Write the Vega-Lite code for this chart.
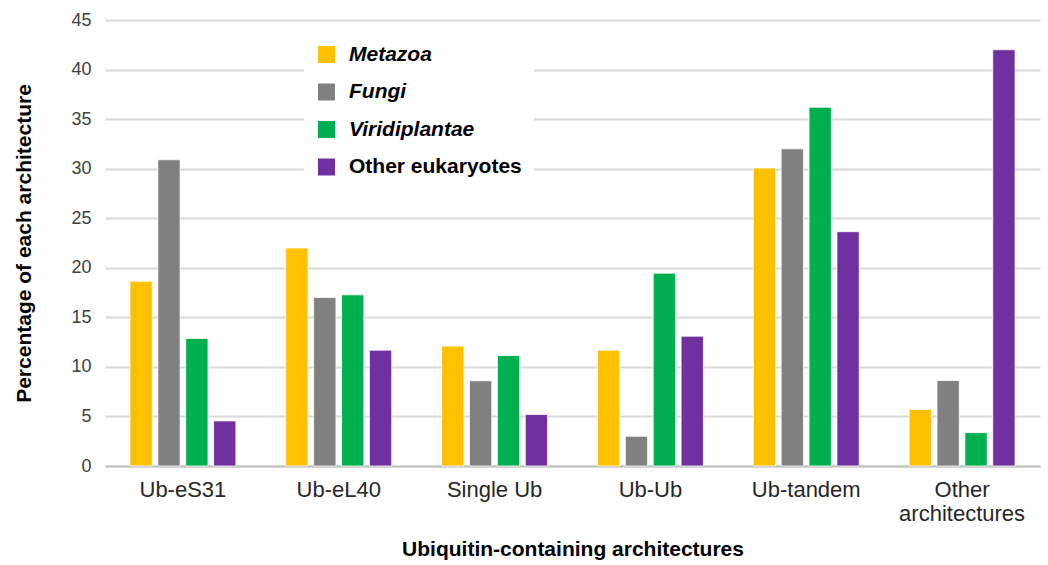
{
  "$schema": "https://vega.github.io/schema/vega-lite/v6.json",
  "autosize": {"type": "none"},
  "width": 935,
  "height": 446,
  "padding": {"left": 105, "top": 20, "right": 8, "bottom": 99},
  "background": "white",
  "data": {
    "values": [
      {"arch": "Ub-eS31", "group": "Metazoa", "value": 18.65},
      {"arch": "Ub-eS31", "group": "Fungi", "value": 30.9},
      {"arch": "Ub-eS31", "group": "Viridiplantae", "value": 12.87},
      {"arch": "Ub-eS31", "group": "Other eukaryotes", "value": 4.55},
      {"arch": "Ub-eL40", "group": "Metazoa", "value": 22.0},
      {"arch": "Ub-eL40", "group": "Fungi", "value": 17.0},
      {"arch": "Ub-eL40", "group": "Viridiplantae", "value": 17.27},
      {"arch": "Ub-eL40", "group": "Other eukaryotes", "value": 11.69},
      {"arch": "Single Ub", "group": "Metazoa", "value": 12.1},
      {"arch": "Single Ub", "group": "Fungi", "value": 8.6},
      {"arch": "Single Ub", "group": "Viridiplantae", "value": 11.15},
      {"arch": "Single Ub", "group": "Other eukaryotes", "value": 5.2},
      {"arch": "Ub-Ub", "group": "Metazoa", "value": 11.69},
      {"arch": "Ub-Ub", "group": "Fungi", "value": 3.0},
      {"arch": "Ub-Ub", "group": "Viridiplantae", "value": 19.46},
      {"arch": "Ub-Ub", "group": "Other eukaryotes", "value": 13.1},
      {"arch": "Ub-tandem", "group": "Metazoa", "value": 30.07},
      {"arch": "Ub-tandem", "group": "Fungi", "value": 32.0},
      {"arch": "Ub-tandem", "group": "Viridiplantae", "value": 36.2},
      {"arch": "Ub-tandem", "group": "Other eukaryotes", "value": 23.64},
      {"arch": "Other architectures", "group": "Metazoa", "value": 5.7},
      {"arch": "Other architectures", "group": "Fungi", "value": 8.62},
      {"arch": "Other architectures", "group": "Viridiplantae", "value": 3.37},
      {"arch": "Other architectures", "group": "Other eukaryotes", "value": 42.0}
    ]
  },
  "mark": {"type": "bar", "stroke": "white", "strokeWidth": 0.8},
  "encoding": {
    "x": {
      "field": "arch",
      "type": "nominal",
      "sort": ["Ub-eS31", "Ub-eL40", "Single Ub", "Ub-Ub", "Ub-tandem", "Other architectures"],
      "scale": {"paddingInner": 0.32, "paddingOuter": 0.16},
      "axis": {
        "title": "Ubiquitin-containing architectures",
        "titleFont": "Liberation Sans",
        "titleFontSize": 21,
        "titleFontWeight": "bold",
        "titleColor": "black",
        "titlePadding": 14,
        "labelAngle": 0,
        "labelFont": "Liberation Sans",
        "labelFontSize": 22,
        "labelColor": "#262626",
        "labelPadding": 13,
        "labelLineHeight": 24,
        "labelExpr": "datum.label == 'Other architectures' ? ['Other', 'architectures'] : datum.label",
        "ticks": false,
        "domainColor": "#bfbfbf",
        "domainWidth": 2,
        "grid": false
      }
    },
    "xOffset": {
      "field": "group",
      "type": "nominal",
      "sort": ["Metazoa", "Fungi", "Viridiplantae", "Other eukaryotes"],
      "scale": {"paddingInner": 0.2}
    },
    "y": {
      "field": "value",
      "type": "quantitative",
      "scale": {"domain": [0, 45], "nice": false},
      "axis": {
        "title": "Percentage of each architecture",
        "titleFont": "Liberation Sans",
        "titleFontSize": 21,
        "titleFontWeight": "bold",
        "titleColor": "black",
        "titlePadding": 36,
        "values": [0, 5, 10, 15, 20, 25, 30, 35, 40, 45],
        "labelFont": "Liberation Sans",
        "labelFontSize": 18,
        "labelColor": "#404040",
        "labelPadding": 14,
        "ticks": false,
        "domain": false,
        "gridColor": "#d9d9d9",
        "gridWidth": 2
      }
    },
    "color": {
      "field": "group",
      "type": "nominal",
      "sort": ["Metazoa", "Fungi", "Viridiplantae", "Other eukaryotes"],
      "scale": {
        "domain": ["Metazoa", "Fungi", "Viridiplantae", "Other eukaryotes"],
        "range": ["#FFC000", "#808080", "#00B050", "#7030A0"]
      },
      "legend": {
        "title": null,
        "orient": "none",
        "legendX": 199,
        "legendY": 12,
        "padding": 12,
        "fillColor": "white",
        "symbolType": "square",
        "symbolSize": 289,
        "symbolStrokeWidth": 0,
        "labelFont": "Liberation Sans",
        "labelFontSize": 21,
        "labelFontWeight": "bold",
        "labelFontStyle": {"expr": "datum.value === 'Other eukaryotes' ? 'normal' : 'italic'"},
        "labelColor": "black",
        "labelOffset": 12,
        "labelLimit": 400,
        "rowPadding": 15.5
      }
    }
  },
  "config": {"view": {"stroke": null}}
}
